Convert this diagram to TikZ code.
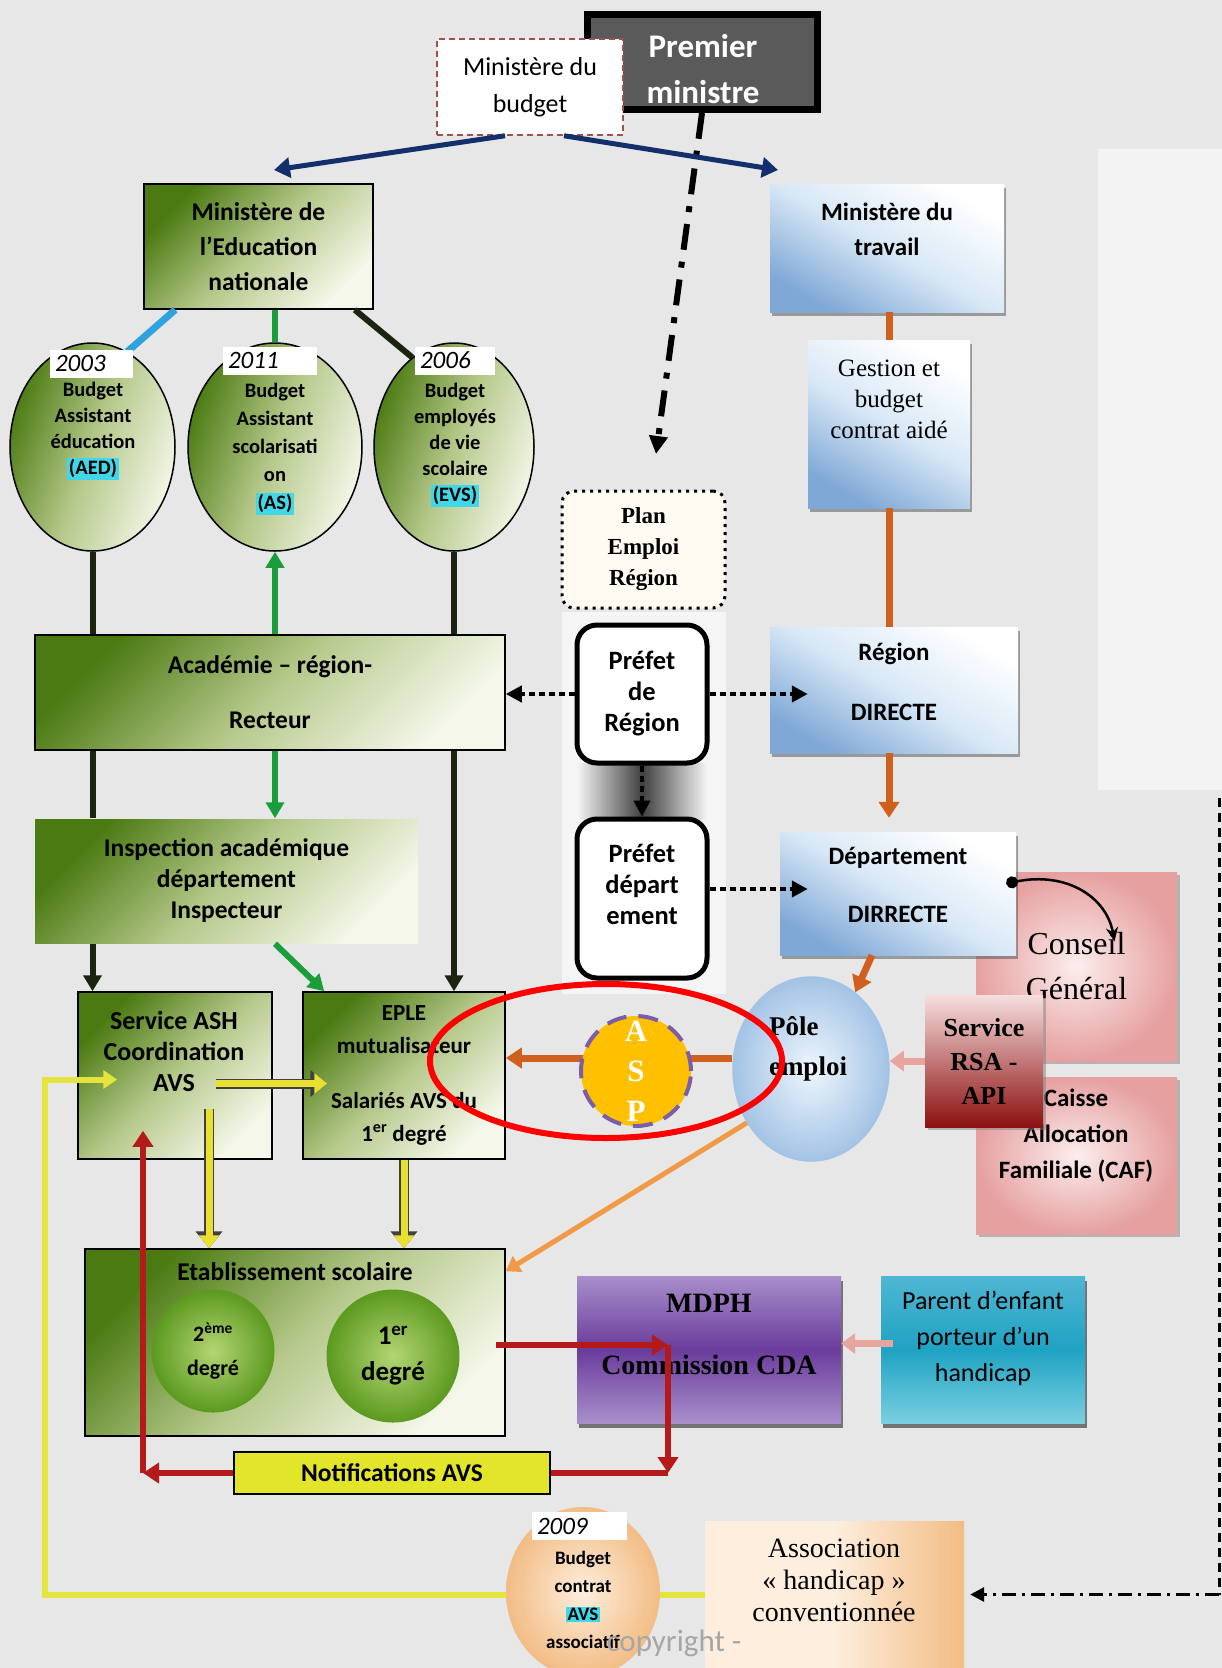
\documentclass[tikz,border=0pt]{standalone}
\usepackage{fontspec}
\setmainfont{Carlito}
\newfontfamily\tms{Liberation Serif}
\usepackage{xcolor}
\usepackage{tikz}
\usetikzlibrary{arrows.meta,shapes.geometric,shadows}

\newcommand\taille[2]{\fontsize{#1}{#2}\selectfont}
\newcommand\cyanbox[1]{{\setlength{\fboxsep}{1.5pt}\colorbox{cyanvif}{#1}}}

\definecolor{fond}{HTML}{E7E7E7}
\definecolor{panneau}{HTML}{F3F3F3}
\definecolor{bande}{HTML}{F5F5F5}
\definecolor{grisfonce}{HTML}{5A5A5A}
\definecolor{bordbudget}{HTML}{A05050}
\definecolor{olivefonce}{HTML}{4B7A12}
\definecolor{olivemoyen}{HTML}{B5C88A}
\definecolor{olivepale}{HTML}{F4F7E9}
\definecolor{bleumoyen}{HTML}{7FA8D6}
\definecolor{bleuclair}{HTML}{D8E8F6}
\definecolor{marine}{HTML}{14306C}
\definecolor{noir}{HTML}{1A2410}
\definecolor{vert}{HTML}{1A9E3C}
\definecolor{cielbleu}{HTML}{2FA3DD}
\definecolor{orfonce}{HTML}{D0601E}
\definecolor{orpale}{HTML}{F09A48}
\definecolor{roseclair}{HTML}{E8A5A0}
\definecolor{rosepale}{HTML}{FCEDED}
\definecolor{rosemoyen}{HTML}{E6A0A0}
\definecolor{rsahaut}{HTML}{F7DEDE}
\definecolor{rougesombre}{HTML}{8C1010}
\definecolor{rouge}{HTML}{B51A1A}
\definecolor{jaune}{HTML}{E8E030}
\definecolor{jaunevif}{HTML}{E4E43C}
\definecolor{notifjaune}{HTML}{E2E52A}
\definecolor{violetclair}{HTML}{A88FCB}
\definecolor{violetfonce}{HTML}{6A3C9C}
\definecolor{cyanhaut}{HTML}{4FB6D2}
\definecolor{cyanmilieu}{HTML}{1FA3C3}
\definecolor{cyanbas}{HTML}{7ACFE0}
\definecolor{orasp}{HTML}{FFC000}
\definecolor{violetasp}{HTML}{7B5DA8}
\definecolor{cyanvif}{HTML}{40D8E8}
\definecolor{pechepale}{HTML}{FDEEDD}
\definecolor{pechemoyen}{HTML}{F2BC84}
\definecolor{polepale}{HTML}{EEF6FD}
\definecolor{polebord}{HTML}{A3C3E5}
\definecolor{vertrondclair}{HTML}{B4D574}
\definecolor{vertrondfonce}{HTML}{5C9A20}
\definecolor{creme}{HTML}{FFFBF2}
\definecolor{gris}{HTML}{A6A6A6}

\tikzset{
  texte/.style={align=center, inner sep=0pt},
  pm/.style={draw=black, line width=7pt, fill=grisfonce, minimum width=230pt, minimum height=95pt},
  budgetbox/.style={draw=bordbudget, line width=1.5pt, dash pattern=on 6pt off 4pt, fill=white, align=center, minimum width=186pt, minimum height=96pt, font=\taille{26}{37}},
  vertbox/.style={draw=black, line width=1.5pt, top color=olivefonce, bottom color=olivepale, middle color=olivemoyen, shading angle=45, align=center, inner sep=0pt},
  ellvert/.style={ellipse, draw=black, line width=1.5pt, top color=olivefonce, bottom color=olivepale, middle color=olivemoyen, shading angle=70, inner sep=0pt},
  bleubox/.style={top color=white, bottom color=bleumoyen, middle color=bleuclair, shading angle=-30, inner sep=0pt, align=center, drop shadow={shadow xshift=2pt, shadow yshift=-4pt, fill=black!70}},
  rosebox/.style={inner color=rosepale, outer color=rosemoyen, inner sep=0pt, align=center, drop shadow={shadow xshift=3pt, shadow yshift=-3pt, fill=gray}},
  annee/.style={fill=white, inner xsep=5pt, inner ysep=1pt, align=left, minimum height=28pt, font=\itshape\taille{25}{27}},
  txtell/.style={texte, font=\bfseries\taille{20.5}{26}},
  planbox/.style={draw=black, line width=3pt, dash pattern=on 3pt off 5pt, rounded corners=12pt, fill=creme, align=center, minimum width=163pt, minimum height=117pt, font=\tms\bfseries\taille{23}{31}},
  prefet/.style={draw=black, line width=5pt, rounded corners=20pt, fill=white, align=center, minimum width=130pt, font=\bfseries\taille{26.5}{31}},
  rond/.style={circle, draw=vertrondfonce, line width=1pt, inner color=vertrondclair, outer color=vertrondfonce, align=center, inner sep=0pt},
  polebox/.style={ellipse, draw=polebord, line width=1.5pt, inner color=polepale, outer color=polebord, inner sep=0pt},
  aspbox/.style={circle, minimum size=110pt, fill=orasp, draw=violetasp, line width=4pt, dash pattern=on 20pt off 12pt, text=white, align=center, inner sep=0pt, font=\tms\bfseries\taille{31}{40}},
  cible/.style={ellipse, draw=red, line width=6pt, minimum width=352pt, minimum height=154pt},
  marinefleche/.style={draw=marine, line width=5pt, -{Triangle[length=16pt,width=20pt]}},
  tiretpoint/.style={draw=black, line width=6pt, dash pattern=on 26pt off 12pt on 6pt off 12pt, -{Triangle[length=18pt,width=18pt]}},
  noirfil/.style={draw=noir, line width=6pt},
  noirfleche/.style={noirfil, -{Triangle[length=16pt,width=18pt]}},
  vertfil/.style={draw=vert, line width=6pt},
  vertfleche/.style={vertfil, -{Triangle[length=16pt,width=18pt]}},
  ciel/.style={draw=cielbleu, line width=7pt},
  orfil/.style={draw=orfonce, line width=7pt},
  orfleche/.style={orfil, -{Triangle[length=16pt,width=20pt]}},
  orclair/.style={draw=orpale, line width=5pt, -{Triangle[length=14pt,width=18pt]}},
  rosefleche/.style={draw=roseclair, line width=7pt, -{Triangle[length=14pt,width=20pt]}},
  pointfleche/.style={draw=black, line width=4pt, dash pattern=on 6pt off 4pt, -{Triangle[length=16pt,width=16pt]}},
  jaunefleche/.style={preaction={draw=black!75, line width=10pt, -{Triangle[length=17pt,width=26pt]}}, draw=jaune, line width=7pt, -{Triangle[length=13pt,width=20pt]}},
  jaunefil/.style={draw=jaunevif, line width=6pt, -{Triangle[length=14pt,width=18pt]}},
  rougefil/.style={draw=rouge, line width=6pt},
  rougefleche/.style={rougefil, -{Triangle[length=16pt,width=20pt]}},
  tirets/.style={draw=black, line width=3pt, dash pattern=on 9pt off 6pt},
  pointtiret/.style={draw=black, line width=3pt, dash pattern=on 14pt off 6pt on 3pt off 6pt, -{Triangle[length=14pt,width=14pt]}},
  courbe/.style={draw=black, line width=2.5pt, {Circle[length=12pt]}-{Stealth[length=14pt,width=12pt]}}
}

\begin{document}
\begin{tikzpicture}[x=1pt,y=-1pt]
\useasboundingbox (0,0) rectangle (1222,1668);
\fill[fond] (0,0) rectangle (1222,1668);
\fill[panneau] (1098,149) rectangle (1222,790);
\fill[bande] (562,612) rectangle (726,994);
\shade[left color=bande, right color=bande, middle color=black!75] (577,763) rectangle (707,819);

\node[pm] (premier) at (702,62) {};
\node[texte, text=white, font=\bfseries\taille{33}{46}] (premiertxt) at (703,69) {Premier\\ministre};
\node[budgetbox] (budget) at (530,87) {Ministère du\\budget};
\coordinate (versplan) at (656,454);
\coordinate (versedu) at (274,170);
\coordinate (verstravail) at (778,170);
\draw[tiretpoint] (premier.south) -- (versplan);
\draw[marinefleche] ([xshift=-25pt]budget.south) -- (versedu);
\draw[marinefleche] ([xshift=34pt]budget.south) -- (verstravail);

\node[vertbox, minimum width=229pt, minimum height=125pt, font=\bfseries\taille{25.5}{35}] (education) at (258.5,246.5) {Ministère de\\l’Education\\nationale};
\node[bleubox, minimum width=234pt, minimum height=128pt] (travail) at (887,248) {};
\node[texte, font=\bfseries\taille{25}{35}] (travailtxt) at (887,229) {Ministère du\\travail};

\node[ellvert, minimum width=165pt, minimum height=208pt] (aed) at (92.5,447) {};
\node[ellvert, minimum width=174pt, minimum height=208pt] (as) at (275,447) {};
\node[ellvert, minimum width=160pt, minimum height=208pt] (evs) at (454,447) {};

\node[bleubox, minimum width=162pt, minimum height=168pt] (gestion) at (889,424) {};
\node[texte, font=\tms\taille{25}{31}] (gestiontxt) at (889,399) {Gestion et\\budget\\contrat aidé};

\node[planbox] (plan) at (643.5,549.5) {Plan\\Emploi\\Région};
\node[prefet, minimum height=138pt] (prefreg) at (642,694) {Préfet\\de\\Région};
\node[prefet, minimum height=159pt] (prefdep) at (642,898.5) {};
\node[texte, font=\bfseries\taille{26.5}{31}] (prefdeptxt) at (642,884) {Préfet\\départ\\ement};

\node[bleubox, minimum width=248pt, minimum height=126pt] (region) at (894,690) {};
\node[texte, font=\bfseries\taille{25}{60}] (regiontxt) at (894,682) {Région\\DIRECTE};

\node[vertbox, minimum width=470pt, minimum height=115pt, font=\bfseries\taille{25.5}{55}] (academie) at (270,692.5) {Académie – région-\\Recteur};
\node[vertbox, draw=none, minimum width=383pt, minimum height=124pt, font=\bfseries\taille{25.5}{31}] (inspection) at (226.5,881) {Inspection académique\\département\\Inspecteur};

\node[rosebox, minimum width=201pt, minimum height=189pt, font=\tms\taille{32}{45}] (conseil) at (1076.5,966.5) {Conseil\\Général};
\node[rosebox, minimum width=201pt, minimum height=157pt] (caf) at (1076.5,1155.5) {};
\node[texte, font=\bfseries\taille{25}{36}] (caftxt) at (1076,1136) {Caisse\\Allocation\\Familiale (CAF)};
\node[bleubox, minimum width=236pt, minimum height=123pt] (departement) at (898,893.5) {};
\node[texte, font=\bfseries\taille{25}{58}] (departementtxt) at (898,885) {Département\\DIRRECTE};
\node[top color=rsahaut, bottom color=rougesombre, minimum width=118pt, minimum height=132pt, align=center, font=\tms\bfseries\taille{26}{34}, drop shadow={shadow xshift=3pt, shadow yshift=-3pt, fill=gray}] (rsa) at (984,1061) {Service\\RSA -\\API};
\node[polebox, minimum width=156pt, minimum height=184pt] (pole) at (811,1069) {};
\node[align=left, inner sep=0pt, font=\tms\bfseries\taille{27}{40}] (poletxt) at (808,1049) {Pôle\\emploi};

\node[vertbox, minimum width=194pt, minimum height=167pt] (ash) at (175,1075.5) {};
\node[texte, font=\bfseries\taille{26}{31}] (ashtxt) at (174,1051) {Service ASH\\Coordination\\AVS};
\node[vertbox, minimum width=202pt, minimum height=167pt, font=\bfseries\taille{23}{33}] (eple) at (404,1075.5) {EPLE\\mutualisateur\\[22pt]Salariés AVS du\\1\textsuperscript{er} degré};

\node[vertbox, minimum width=420pt, minimum height=187pt] (etab) at (295,1342.5) {};
\node[texte, font=\bfseries\taille{25.5}{28}] (etabtxt) at (295,1272) {Etablissement scolaire};
\node[rond, minimum size=122pt, font=\bfseries\taille{22}{34}] (degre2) at (213,1351) {2\textsuperscript{ème}\\degré};
\node[rond, minimum size=132pt, font=\bfseries\taille{27}{36}] (degre1) at (393,1356) {1\textsuperscript{er}\\degré};

\node[top color=violetclair, bottom color=violetclair, middle color=violetfonce, minimum width=264pt, minimum height=147pt, drop shadow={shadow xshift=2pt, shadow yshift=-5pt, fill=black}] (mdph) at (709,1349.5) {};
\node[texte, font=\tms\bfseries\taille{28}{62}] (mdphtxt) at (709,1334) {MDPH\\Commission CDA};
\node[top color=cyanhaut, bottom color=cyanbas, middle color=cyanmilieu, minimum width=204pt, minimum height=147pt, drop shadow={shadow xshift=2pt, shadow yshift=-5pt, fill=black}] (parent) at (983,1349.5) {};
\node[texte, font=\taille{26}{36}] (parenttxt) at (983,1338) {Parent d’enfant\\porteur d’un\\handicap};
\node[fill=notifjaune, draw=black, line width=1.5pt, minimum width=316pt, minimum height=42pt, font=\bfseries\taille{25.5}{26}] (notif) at (392,1473) {Notifications AVS};

\node[left color=pechepale, right color=pechemoyen, middle color=pechepale, minimum width=259pt, minimum height=147pt] (assoc) at (834.5,1594.5) {};
\node[texte, font=\tms\taille{28}{32}] (assoctxt) at (834,1580) {Association\\« handicap »\\conventionnée};

\draw[ciel] ([xshift=32pt]education.south west) -- (aed.70);
\draw[vertfil] (as.north |- education.south) -- (as.north);
\draw[noirfil] ([xshift=-19pt]education.south east) -- (evs.115);
\draw[orfil] (gestion.north |- travail.south) -- (gestion.north);
\draw[orfil] (gestion.south) -- (gestion.south |- region.north);
\draw[orfleche] (gestion.south |- region.south) -- ([yshift=14pt]gestion.south |- departement.north);

\draw[noirfil] (aed.south) -- (aed.south |- academie.north);
\draw[vertfleche] (as.south |- academie.north) -- (as.south);
\draw[noirfil] (evs.south) -- (evs.south |- academie.north);
\draw[noirfil] (aed.south |- academie.south) -- (aed.south |- inspection.north);
\draw[noirfleche] (aed.south |- inspection.south) -- (aed.south |- ash.north);
\draw[vertfleche] (as.south |- academie.south) -- (as.south |- inspection.north);
\draw[noirfleche] (evs.south |- academie.south) -- (evs.south |- eple.north);
\draw[vertfleche] (as.south |- inspection.south) -- ([xshift=22pt]eple.north west);

\draw[pointfleche] (prefreg.west) -- (academie.east |- prefreg.west);
\draw[pointfleche] (prefreg.east) -- ([xshift=38pt]region.west |- prefreg.east);
\draw[pointfleche] (prefreg.south) -- (prefdep.north);
\draw[pointfleche] (prefdep.8) -- ([xshift=28pt]departement.west |- prefdep.8);

\draw[courbe] ([xshift=-10pt,yshift=10pt]departement.east) .. controls +(60,-12) and +(-8,-45) .. ([xshift=38pt,yshift=25pt]conseil.center);
\draw[orfleche] ([xshift=-26pt]departement.south) -- (pole.60);
\draw[rosefleche] (rsa.west) -- (pole.east |- rsa.west);
\draw[orclair] (pole.220) -- ([yshift=-23pt]etab.north east);

\draw[jaunefleche] ([xshift=41pt,yshift=-8pt]ash.center) -- ([xshift=25pt,yshift=-8pt]eple.west);
\draw[jaunefleche] ([xshift=34pt,yshift=-33pt]ash.center) -- ([xshift=34pt]ash.center |- etab.north);
\draw[jaunefleche] (eple.south) -- (eple.south |- etab.north);

\draw[rosefleche] ([xshift=12pt,yshift=6pt]parent.west) -- ([yshift=6pt]mdph.east);
\coordinate (cda) at (668,1345);
\coordinate (retour) at (143,1473);
\draw[rougefleche] ([xshift=-10pt]etab.east |- cda) -- (cda);
\draw[rougefleche] (cda) -- (cda |- notif.east);
\draw[rougefil] (cda |- notif.east) -- (notif.east);
\draw[rougefleche] (notif.west) -- (retour);
\draw[rougefleche] (retour) -- ([yshift=29pt]retour |- ash.south);

\coordinate (droite) at (1219,798);
\coordinate (coinbas) at (1219,1594.5);
\draw[tirets] (droite) -- (coinbas);
\draw[pointtiret] (coinbas) -- ([xshift=6pt]assoc.east);

\node[annee, text width=73pt] (an2003) at (91.5,363.5) {2003};
\node[annee, text width=84pt] (an2011) at (270,360.5) {2011};
\node[annee, text width=70pt] (an2006) at (455,360.5) {2006};
\node[txtell] (aedtxt) at (93,431) {Budget\\Assistant\\éducation\\\cyanbox{(AED)}};
\node[txtell, font=\bfseries\taille{20.5}{28}] (astxt) at (275,449) {Budget\\Assistant\\scolarisati\\on\\\cyanbox{(AS)}};
\node[txtell] (evstxt) at (455,445) {Budget\\employés\\de vie\\scolaire\\\cyanbox{(EVS)}};

\draw[orfleche] ([yshift=11pt]pole.west) -- ([yshift=11pt]pole.west -| eple.east);
\node[aspbox] (asp) at (636,1071) {A\\S\\P};

\coordinate (boucle) at (45,1594.5);
\draw[jaunefil] (assoc.west) -- (boucle) |- ([xshift=40pt,yshift=-4pt]ash.west);
\node[ellipse, inner color=pechepale, outer color=pechemoyen, minimum width=154pt, minimum height=170pt] (avs2009) at (583,1592) {};
\node[annee, text width=85pt] (an2009) at (579.5,1526) {2009};
\node[txtell, font=\bfseries\taille{19}{28}] (avs2009txt) at (583,1600) {Budget\\contrat\\\cyanbox{AVS}\\associatif};

\node[cible] (focus) at (606,1061) {};
\node[font=\taille{31}{30}, text=gris] (copyright) at (674,1643) {copyright -};
\end{tikzpicture}
\end{document}
